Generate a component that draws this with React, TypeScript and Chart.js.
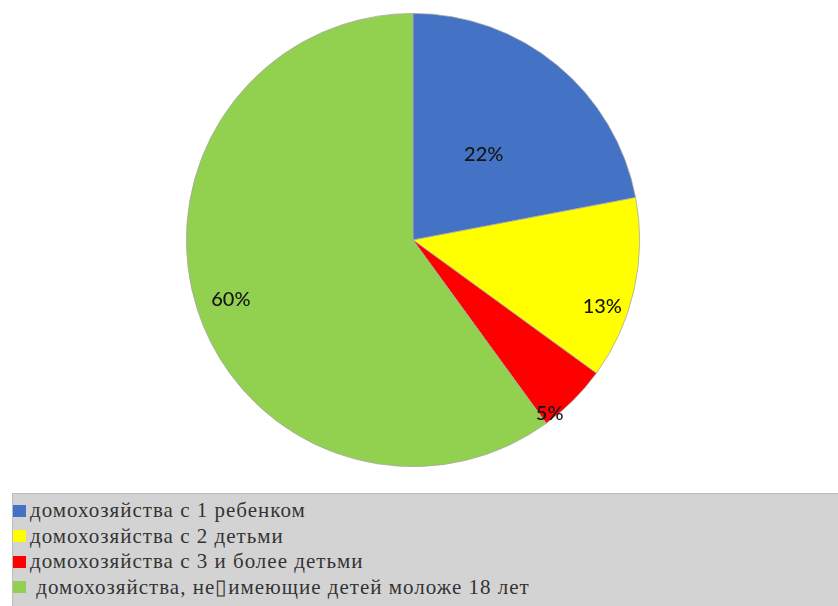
import React, { useEffect, useRef } from "react";
import { Chart, registerables } from "chart.js";

Chart.register(...registerables);

const categories = [
  "домохозяйства с 1 ребенком",
  "домохозяйства с 2 детьми",
  "домохозяйства с 3 и более детьми",
  " домохозяйства, не\u25AFимеющие детей моложе 18 лет",
];
const shares = [22, 13, 5, 60];
const valueLabels = ["22%", "13%", "5%", "60%"];
const sliceColors = ["#4472C4", "#FFFF00", "#FF0000", "#92D050"];

// label placement styling: [angle shift in degrees, radius fraction]
const labelPlacement: [number, number][] = [
  [0, 0.49],
  [6.7, 0.885],
  [6.8, 0.975],
  [0, 0.845],
];

const labelPlugin = {
  id: "sliceLabels",
  afterDatasetsDraw(chart: any) {
    const ctx = chart.ctx;
    const meta = chart.getDatasetMeta(0);
    ctx.save();
    ctx.font = "500 20px Lato, 'Open Sans', sans-serif";
    ctx.fillStyle = "#151515";
    ctx.textAlign = "center";
    ctx.textBaseline = "middle";
    meta.data.forEach((arc: any, i: number) => {
      const { x, y, startAngle, endAngle, outerRadius } = arc.getProps(
        ["x", "y", "startAngle", "endAngle", "outerRadius"],
        true
      );
      const [shift, frac] = labelPlacement[i];
      const a = (startAngle + endAngle) / 2 + (shift * Math.PI) / 180;
      const r = outerRadius * frac;
      ctx.fillText(valueLabels[i], x + Math.cos(a) * r, y + Math.sin(a) * r);
    });
    ctx.restore();
  },
};

export default function App() {
  const ref = useRef<HTMLCanvasElement | null>(null);
  useEffect(() => {
    if (!ref.current) return;
    const chart = new Chart(ref.current, {
      type: "pie",
      data: {
        labels: categories,
        datasets: [
          {
            data: shares,
            backgroundColor: sliceColors,
            borderColor: "#a6a6a6",
            borderWidth: 0.75,
          },
        ],
      },
      options: {
        animation: false,
        responsive: false,
        maintainAspectRatio: false,
        layout: { padding: { top: 13, bottom: 13, left: 0, right: 12 } },
        plugins: {
          legend: { display: false },
          tooltip: { enabled: false },
        },
      },
      plugins: [labelPlugin],
    });
    return () => chart.destroy();
  }, []);

  return (
    <div
      style={{
        position: "fixed",
        left: 0,
        top: 0,
        width: 838,
        height: 606,
        overflow: "hidden",
        background: "#ffffff",
      }}
    >
      <canvas
        ref={ref}
        width={838}
        height={480}
        style={{ position: "absolute", left: 0, top: 0, width: 838, height: 480 }}
      />
      <div
        style={{
          position: "absolute",
          left: 12,
          top: 493,
          width: 840,
          height: 130,
          background: "#d3d3d3",
          borderTop: "1px solid #bdbdbd",
          borderLeft: "1px solid #bdbdbd",
          boxSizing: "border-box",
          paddingTop: 4,
        }}
      >
        {categories.map((c, i) => (
          <div
            key={i}
            style={{
              display: "flex",
              alignItems: "center",
              height: 25.5,
              fontFamily: "'Liberation Serif', 'Times New Roman', serif",
              fontSize: 21,
              letterSpacing: 1,
              color: "#333333",
              whiteSpace: "pre",
            }}
          >
            <span
              style={{
                display: "inline-block",
                width: 13,
                height: 12,
                background: sliceColors[i],
                marginRight: 4,
              }}
            />
            <span>{c}</span>
          </div>
        ))}
      </div>
    </div>
  );
}
